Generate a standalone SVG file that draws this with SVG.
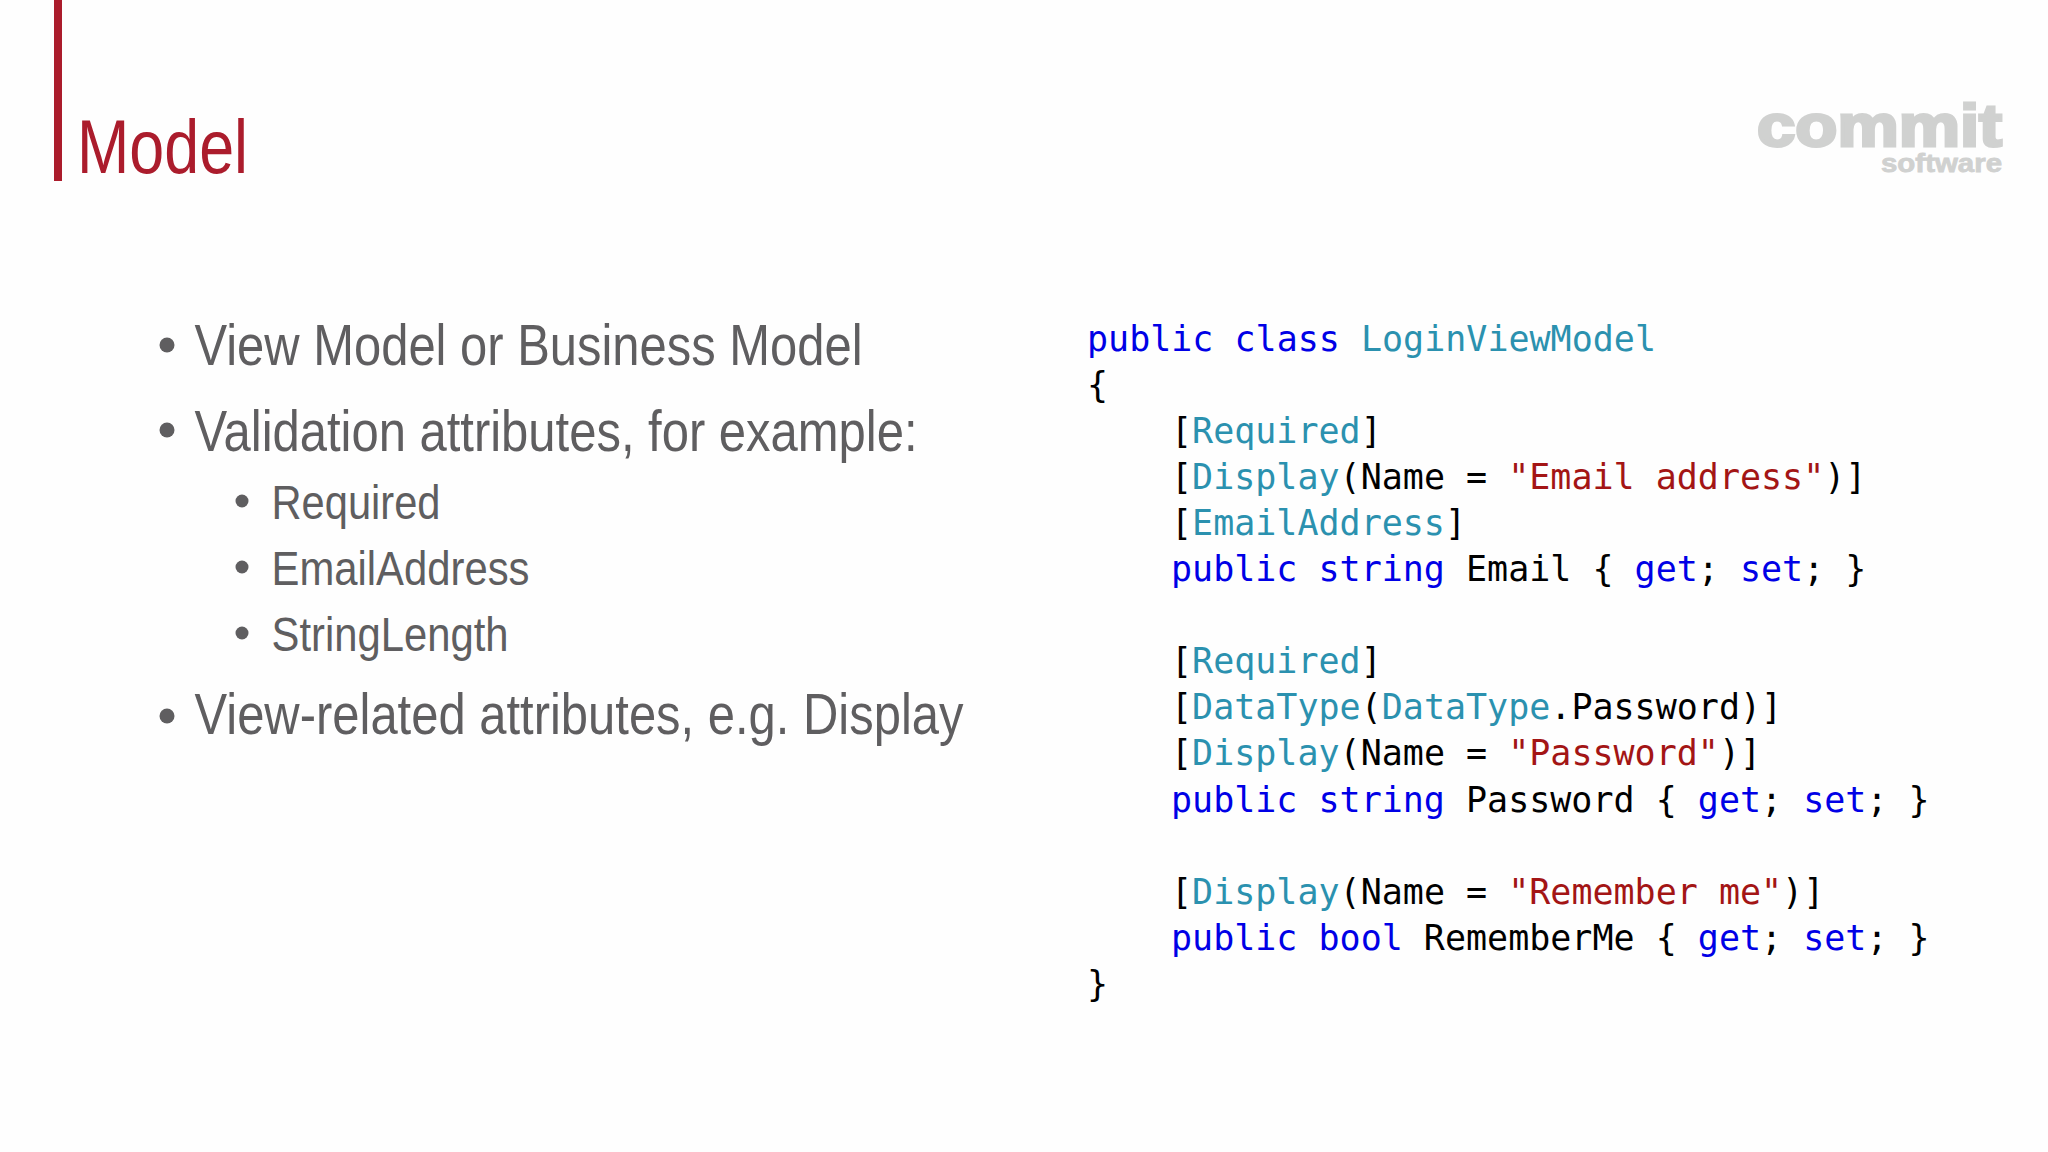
<svg xmlns="http://www.w3.org/2000/svg" width="2048" height="1152" viewBox="0 0 2048 1152">
<style>
.t{font-family:"Liberation Sans",Arial,sans-serif;fill:#5f5e60}
.l1{font-size:57px}
.l2{font-size:49px}
.c{font-family:"DejaVu Sans Mono","Liberation Mono",monospace;font-size:35px;fill:#000;white-space:pre}
.k{fill:#0000e6}
.y{fill:#2b91af}
.s{fill:#a31515}
.d{fill:#5f5e60}
.logo{font-family:"Liberation Sans",Arial,sans-serif;font-weight:700;fill:#d0d1d0;stroke:#d0d1d0}
</style>
<rect width="2048" height="1152" fill="#fefefe"/>
<g id="title">
<rect x="54" y="0" width="8" height="181" fill="#ab1c2c"/>
<text x="77" y="173" font-family="Liberation Sans,Arial,sans-serif" font-size="76" fill="#ab1c2c" textLength="171" lengthAdjust="spacingAndGlyphs">Model</text>
</g>
<g id="logo">
<text class="logo" x="1757" y="146" font-size="60" stroke-width="3" textLength="245" lengthAdjust="spacingAndGlyphs">commit</text>
<text class="logo" x="1881" y="172" font-size="25" stroke-width="0.8" textLength="121" lengthAdjust="spacingAndGlyphs">software</text>
</g>
<g id="bullets">
<circle class="d" cx="167" cy="345" r="7.5"/>
<text class="t l1" x="194.5" y="365" textLength="668" lengthAdjust="spacingAndGlyphs">View Model or Business Model</text>
<circle class="d" cx="167" cy="430" r="7.5"/>
<text class="t l1" x="194.5" y="451" textLength="723" lengthAdjust="spacingAndGlyphs">Validation attributes, for example:</text>
<circle class="d" cx="242" cy="501" r="6.5"/>
<text class="t l2" x="271.5" y="518.5" textLength="169" lengthAdjust="spacingAndGlyphs">Required</text>
<circle class="d" cx="242" cy="567" r="6.5"/>
<text class="t l2" x="271.5" y="584.5" textLength="258" lengthAdjust="spacingAndGlyphs">EmailAddress</text>
<circle class="d" cx="242" cy="633" r="6.5"/>
<text class="t l2" x="271.5" y="650.5" textLength="237" lengthAdjust="spacingAndGlyphs">StringLength</text>
<circle class="d" cx="167" cy="716" r="7.5"/>
<text class="t l1" x="194.5" y="734" textLength="769" lengthAdjust="spacingAndGlyphs">View-related attributes, e.g. Display</text>
</g>
<g id="code">
<text class="c" x="1087" y="351"><tspan class="k">public class</tspan> <tspan class="y">LoginViewModel</tspan></text>
<text class="c" x="1087" y="397">{</text>
<text class="c" x="1171" y="443">[<tspan class="y">Required</tspan>]</text>
<text class="c" x="1171" y="489">[<tspan class="y">Display</tspan>(Name = <tspan class="s">"Email address"</tspan>)]</text>
<text class="c" x="1171" y="535">[<tspan class="y">EmailAddress</tspan>]</text>
<text class="c" x="1171" y="581"><tspan class="k">public string</tspan> Email { <tspan class="k">get</tspan>; <tspan class="k">set</tspan>; }</text>
<text class="c" x="1171" y="673">[<tspan class="y">Required</tspan>]</text>
<text class="c" x="1171" y="719">[<tspan class="y">DataType</tspan>(<tspan class="y">DataType</tspan>.Password)]</text>
<text class="c" x="1171" y="765">[<tspan class="y">Display</tspan>(Name = <tspan class="s">"Password"</tspan>)]</text>
<text class="c" x="1171" y="812"><tspan class="k">public string</tspan> Password { <tspan class="k">get</tspan>; <tspan class="k">set</tspan>; }</text>
<text class="c" x="1171" y="904">[<tspan class="y">Display</tspan>(Name = <tspan class="s">"Remember me"</tspan>)]</text>
<text class="c" x="1171" y="950"><tspan class="k">public bool</tspan> RememberMe { <tspan class="k">get</tspan>; <tspan class="k">set</tspan>; }</text>
<text class="c" x="1087" y="996">}</text>
</g>
</svg>
